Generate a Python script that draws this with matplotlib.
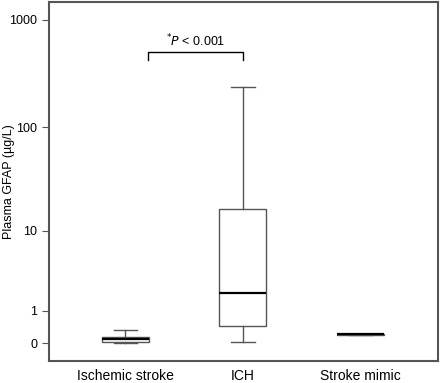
import numpy as np
import matplotlib
matplotlib.use('Agg')
from matplotlib import pyplot as plt

plt.rcParams['font.family'] = ['Liberation Sans', 'DejaVu Sans']

groups = ['Ischemic stroke', 'ICH', 'Stroke mimic']
whislo = [0.01, 0.03, 0.19]
q1 = [0.02, 0.45, 0.195]
med = [0.08, 1.9, 0.2]
q3 = [0.14, 16.6, 0.205]
whishi = [0.32, 238, 0.21]
yticks = [0, 1, 10, 100, 1000]

stats = []
for i in range(len(groups)):
    stats.append(dict(label=groups[i], whislo=whislo[i], q1=q1[i], med=med[i],
                      q3=q3[i], whishi=whishi[i], fliers=[]))

fig = plt.figure(figsize=(4.4, 3.83), dpi=100)
ax = fig.add_axes([49/440, 22/383, 389/440, 359/383])

# axis is log10(x + 1), so 0 can sit under the 1 tick
fwd = lambda x: np.log10(np.clip(x, -0.999, None) + 1)
inv = lambda y: 10**y - 1
ax.set_yscale('function', functions=(fwd, inv))

edge = '#555555'
ax.bxp(stats, positions=[1, 2, 3], widths=0.4, patch_artist=True, showfliers=False,
       boxprops=dict(facecolor='white', edgecolor=edge, linewidth=1.0),
       whiskerprops=dict(color=edge, linewidth=1.0),
       capprops=dict(color=edge, linewidth=1.0),
       medianprops=dict(color='black', linewidth=1.6),
       capwidths=0.2)

ax.set_xlim(0.35, 3.66)
ax.set_ylim(inv(-0.167), inv(3.166))
ax.set_yticks(yticks)
ax.set_yticklabels([str(t) for t in yticks])
ax.set_xticks([1, 2, 3])
ax.set_xticklabels(groups, fontsize=10)
ax.tick_params(axis='x', length=0, pad=6)
ax.tick_params(axis='y', length=5, color=edge, labelsize=9)
ax.set_ylabel('Plasma GFAP (\u00b5g/L)', fontsize=9)
ax.yaxis.set_label_coords(-34/389, 0.5)
for s in ax.spines.values():
    s.set_color(edge)
    s.set_linewidth(1.5)

# significance bracket
ytop = inv(2.705)
ybot = inv(2.63)
ax.plot([1.19, 1.19, 2.0, 2.0], [ybot, ytop, ytop, ybot], color='black', linewidth=1.0)
ax.text(1.6, inv(2.73), '$^{*}$$\\it{P}$ < 0.001', ha='center', va='bottom', fontsize=9)

fig.savefig('out.png', dpi=100)
